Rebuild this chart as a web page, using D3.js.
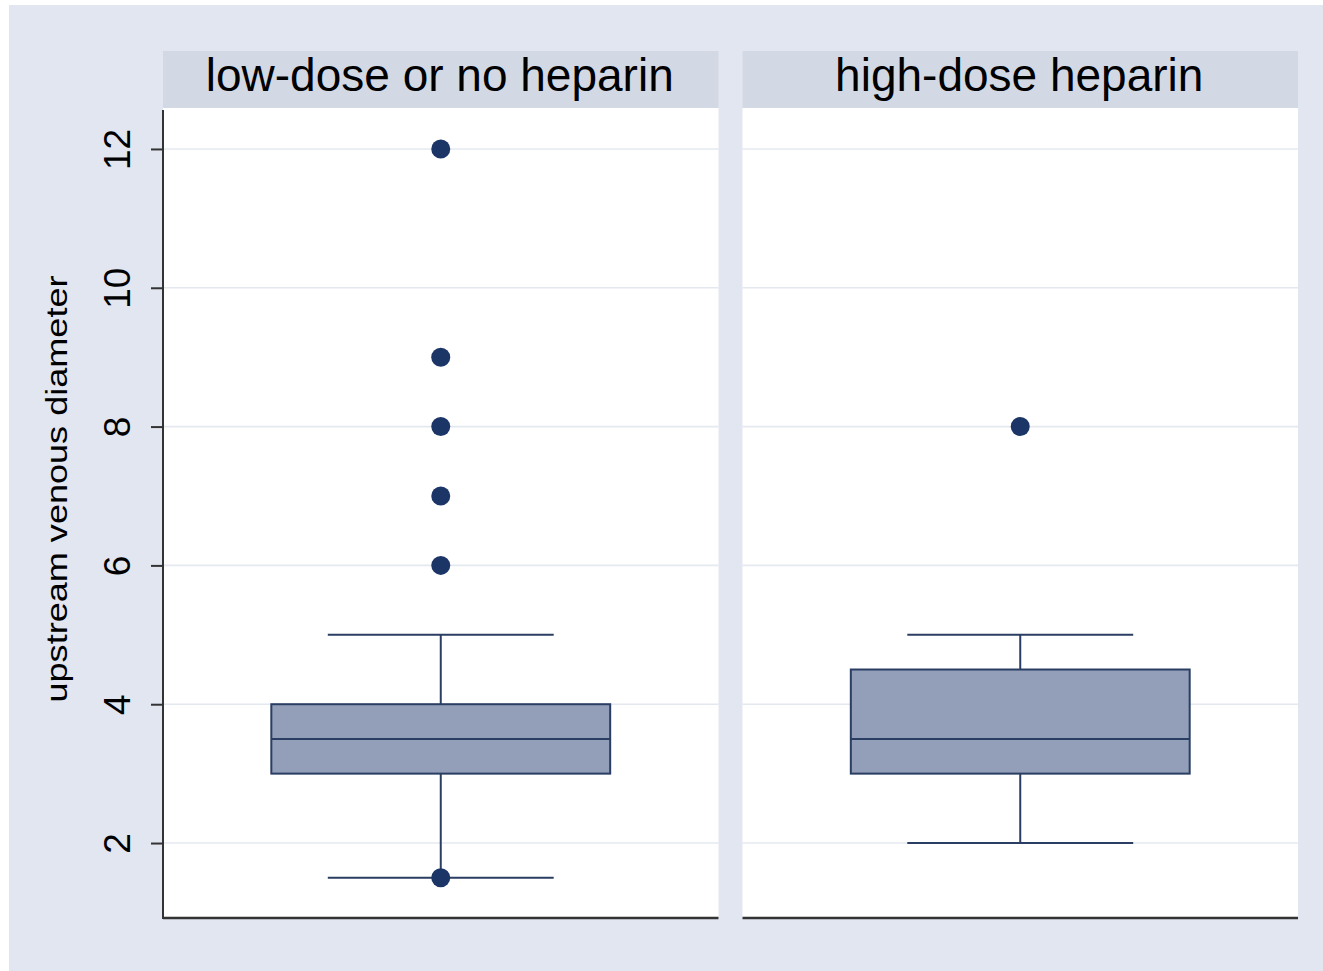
<!DOCTYPE html>
<html>
<head>
<meta charset="utf-8">
<script src="https://cdn.jsdelivr.net/npm/d3@7/dist/d3.min.js"></script>
<style>
  html, body { margin: 0; padding: 0; background: #ffffff; }
  svg { display: block; }
  text { font-family: "Liberation Sans", Arial, sans-serif; fill: #000; }
</style>
</head>
<body>
<svg id="chart" width="1323" height="971"></svg>
<script>
// Box plot summaries for upstream venous diameter, by heparin group
const groups      = ["low-dose or no heparin", "high-dose heparin"];
const lowerWhisk  = [1.5, 2];
const q1          = [3, 3];
const median      = [3.5, 3.5];
const q3          = [4, 4.5];
const upperWhisk  = [5, 5];
const pointsA     = [1.5, 6, 7, 8, 9, 12];
const pointsB     = [8];
const outsidePts  = [pointsA, pointsB];
const yTicks      = [2, 4, 6, 8, 10, 12];
const yTitle      = "upstream venous diameter";

const svg = d3.select("#chart");

// Outer graph region
svg.append("rect")
  .attr("x", 9).attr("y", 5)
  .attr("width", 1314).attr("height", 966)
  .attr("fill", "#E2E6F0");

const plotTop = 108, plotBottom = 918;
const headerTop = 51;

const y = d3.scaleLinear().domain([0.92, 12.59]).range([plotBottom, plotTop]);
const x = d3.scaleBand().domain(groups).range([163, 1298]).paddingInner(0.0414);
const bw = x.bandwidth();
const boxW = bw * 0.61;
const capW = boxW * 2 / 3;

const boxFill = "#939FB8";
const lineCol = "#2A3D62";
const dotCol  = "#1C3567";

groups.forEach((g, i) => {
  const x0 = x(g);
  const cx = x0 + bw / 2;
  const panel = svg.append("g");

  // Header strip with the group label
  panel.append("rect")
    .attr("x", x0).attr("y", headerTop)
    .attr("width", bw).attr("height", plotTop - headerTop)
    .attr("fill", "#D3D9E4");
  panel.append("text")
    .attr("x", cx - 1).attr("y", 91)
    .attr("text-anchor", "middle")
    .attr("font-size", 46)
    .text(g);

  // Plot area
  panel.append("rect")
    .attr("x", x0).attr("y", plotTop)
    .attr("width", bw).attr("height", plotBottom - plotTop)
    .attr("fill", "#ffffff");

  // Horizontal grid lines
  panel.selectAll("line.grid").data(yTicks).join("line")
    .attr("class", "grid")
    .attr("x1", x0).attr("x2", x0 + bw)
    .attr("y1", d => y(d)).attr("y2", d => y(d))
    .attr("stroke", "#E4E8EF").attr("stroke-width", 1.6);

  // Whiskers and caps
  const wg = panel.append("g").attr("stroke", lineCol).attr("stroke-width", 2).attr("fill", "none");
  wg.append("line").attr("x1", cx).attr("x2", cx).attr("y1", y(q3[i])).attr("y2", y(upperWhisk[i]));
  wg.append("line").attr("x1", cx).attr("x2", cx).attr("y1", y(q1[i])).attr("y2", y(lowerWhisk[i]));
  wg.append("line").attr("x1", cx - capW / 2).attr("x2", cx + capW / 2)
    .attr("y1", y(upperWhisk[i])).attr("y2", y(upperWhisk[i]));
  wg.append("line").attr("x1", cx - capW / 2).attr("x2", cx + capW / 2)
    .attr("y1", y(lowerWhisk[i])).attr("y2", y(lowerWhisk[i]));

  // Box from Q1 to Q3 with median line
  panel.append("rect")
    .attr("x", cx - boxW / 2).attr("y", y(q3[i]))
    .attr("width", boxW).attr("height", y(q1[i]) - y(q3[i]))
    .attr("fill", boxFill).attr("stroke", lineCol).attr("stroke-width", 2);
  panel.append("line")
    .attr("x1", cx - boxW / 2).attr("x2", cx + boxW / 2)
    .attr("y1", y(median[i])).attr("y2", y(median[i]))
    .attr("stroke", lineCol).attr("stroke-width", 2);

  // Individual observations
  panel.selectAll("circle").data(outsidePts[i]).join("circle")
    .attr("cx", cx).attr("cy", d => y(d)).attr("r", 9.5)
    .attr("fill", dotCol);

  // Bottom axis line of each panel
  panel.append("line")
    .attr("x1", x0).attr("x2", x0 + bw)
    .attr("y1", plotBottom).attr("y2", plotBottom)
    .attr("stroke", "#333333").attr("stroke-width", 2.5);
});

// Left y axis with rotated tick labels
const axisX = x(groups[0]);
const yAxis = d3.axisLeft(y).tickValues(yTicks).tickSize(12).tickPadding(0).tickFormat(d3.format("d"));
const ag = svg.append("g").attr("transform", `translate(${axisX},0)`).call(yAxis);
ag.select(".domain").remove();
ag.append("line")
  .attr("x1", 0).attr("x2", 0)
  .attr("y1", 110).attr("y2", plotBottom + 1)
  .attr("stroke", "#333333").attr("stroke-width", 2);
ag.selectAll(".tick line").attr("stroke", "#333333").attr("stroke-width", 2);
ag.selectAll(".tick text")
  .attr("x", null).attr("dy", null)
  .attr("font-size", 37)
  .attr("fill", "#000")
  .attr("text-anchor", "middle")
  .attr("transform", "translate(-33,0) rotate(-90)");

// Y axis title
svg.append("text")
  .attr("transform", "translate(67,489) rotate(-90)")
  .attr("text-anchor", "middle")
  .attr("font-size", 29)
  .attr("textLength", 427)
  .attr("lengthAdjust", "spacingAndGlyphs")
  .text(yTitle);
</script>
</body>
</html>
